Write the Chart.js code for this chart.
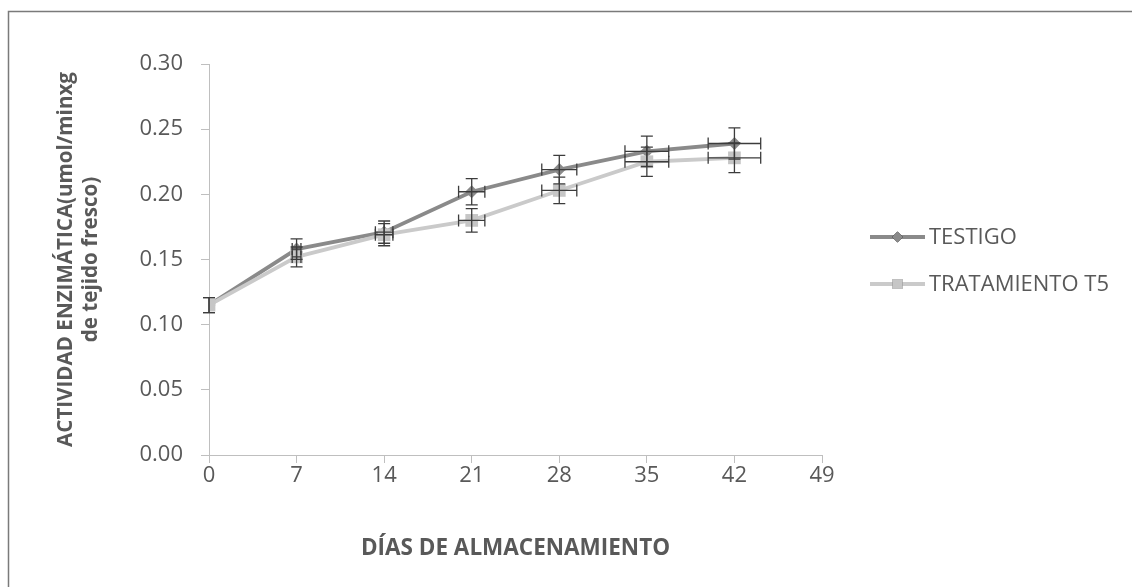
<!DOCTYPE html>
<html>
<head>
<meta charset="utf-8">
<script src="https://cdn.jsdelivr.net/npm/chart.js@4.4.1/dist/chart.umd.min.js"></script>
<style>
  html, body { margin: 0; padding: 0; background: #fff; overflow: hidden; }
  canvas { display: block; }
</style>
</head>
<body>
<canvas id="chart" width="1132" height="587"></canvas>
<script>
// Storage days and enzyme activity per series
const days = [0, 7, 14, 21, 28, 35, 42];
const testigo = [0.115, 0.158, 0.171, 0.202, 0.219, 0.233, 0.239];
const tratamientoT5 = [0.115, 0.152, 0.169, 0.180, 0.203, 0.225, 0.228];
const seriesNames = ['TESTIGO', 'TRATAMIENTO T5'];

// Axis ranges and titles
const xMax = 49, xStep = 7;
const yMax = 0.30, yStep = 0.05;
const xTitle = 'DÍAS DE ALMACENAMIENTO';
const yTitle = ['ACTIVIDAD ENZIMÁTICA(umol/minxg', 'de tejido fresco)'];

// Error bars: percentage of each value, on both axes
const errorPercent = 5;

const FONT = '"Open Sans", "Liberation Sans", sans-serif';
const TEXT = '#595959';
const AXIS = '#bfbfbf';

function toPoints(ys) { return days.map((d, i) => ({ x: d, y: ys[i] })); }

const framePlugin = {
  id: 'frame',
  beforeDraw(chart) {
    const ctx = chart.ctx;
    ctx.save();
    ctx.fillStyle = '#fff';
    ctx.fillRect(0, 0, chart.width, chart.height);
    ctx.strokeStyle = '#7a7a7a';
    ctx.lineWidth = 1.5;
    ctx.beginPath();
    ctx.moveTo(8.5, chart.height);
    ctx.lineTo(8.5, 11.5);
    ctx.lineTo(chart.width, 11.5);
    ctx.stroke();
    ctx.restore();
  }
};

const errorBarPlugin = {
  id: 'errorBars',
  afterDatasetsDraw(chart) {
    const ctx = chart.ctx;
    const xs = chart.scales.x, ys = chart.scales.y;
    const cap = 6;
    ctx.save();
    ctx.strokeStyle = '#3c3c3c';
    ctx.lineWidth = 1.3;
    chart.data.datasets.forEach(ds => {
      ds.data.forEach(p => {
        const dx = p.x * errorPercent / 100;
        const dy = p.y * errorPercent / 100;
        const px = xs.getPixelForValue(p.x), py = ys.getPixelForValue(p.y);
        const yTop = ys.getPixelForValue(p.y + dy), yBot = ys.getPixelForValue(p.y - dy);
        const xL = xs.getPixelForValue(p.x - dx), xR = xs.getPixelForValue(p.x + dx);
        ctx.beginPath();
        ctx.moveTo(px, yTop); ctx.lineTo(px, yBot);
        ctx.moveTo(px - cap, yTop); ctx.lineTo(px + cap, yTop);
        ctx.moveTo(px - cap, yBot); ctx.lineTo(px + cap, yBot);
        if (dx > 0) {
          ctx.moveTo(xL, py); ctx.lineTo(xR, py);
          ctx.moveTo(xL, py - cap); ctx.lineTo(xL, py + cap);
          ctx.moveTo(xR, py - cap); ctx.lineTo(xR, py + cap);
        }
        ctx.stroke();
      });
    });
    ctx.restore();
  }
};

// Legend on the right: line sample with its marker, then the series name
const sideLegendPlugin = {
  id: 'sideLegend',
  afterDraw(chart) {
    const ctx = chart.ctx;
    const x0 = 870, x1 = 925, rows = [237, 284];
    const markerRadius = [5.5, 7];
    ctx.save();
    chart.data.datasets.forEach((ds, i) => {
      const y = rows[i];
      ctx.strokeStyle = ds.borderColor;
      ctx.lineWidth = ds.borderWidth;
      ctx.beginPath();
      ctx.moveTo(x0, y); ctx.lineTo(x1, y);
      ctx.stroke();
      Chart.helpers.drawPoint(ctx, {
        pointStyle: ds.pointStyle, radius: markerRadius[i], borderWidth: 0
      }, (x0 + x1) / 2, y);
      ctx.fillStyle = ds.pointBackgroundColor;
      ctx.fill();
      ctx.fillStyle = TEXT;
      ctx.font = '22px ' + FONT;
      ctx.textAlign = 'left';
      ctx.textBaseline = 'middle';
      ctx.fillText(ds.label, x1 + 4, y + 1);
    });
    ctx.restore();
  }
};

new Chart(document.getElementById('chart'), {
  type: 'scatter',
  data: {
    datasets: [
      {
        label: seriesNames[0],
        data: toPoints(testigo),
        showLine: true,
        borderColor: '#8a8a8a',
        borderWidth: 3.8,
        pointStyle: 'rectRot',
        pointRadius: 6.5,
        pointBackgroundColor: '#8a8a8a',
        pointBorderWidth: 0,
        order: 2
      },
      {
        label: seriesNames[1],
        data: toPoints(tratamientoT5),
        showLine: true,
        borderColor: '#cacaca',
        borderWidth: 3.8,
        pointStyle: 'rect',
        pointRadius: 9,
        pointBackgroundColor: '#c6c6c6',
        pointBorderWidth: 0,
        order: 1
      }
    ]
  },
  options: {
    responsive: false,
    animation: false,
    devicePixelRatio: 1,
    layout: { padding: { top: 64, right: 310, left: 0, bottom: 0 } },
    plugins: { legend: { display: false }, tooltip: { enabled: false } },
    elements: { line: { tension: 0 } },
    scales: {
      x: {
        type: 'linear', min: 0, max: xMax,
        afterFit(s) { s.height = 132; },
        border: { display: true, color: AXIS, width: 1 },
        grid: { drawOnChartArea: false, drawTicks: true, tickLength: 8, color: AXIS },
        ticks: { stepSize: xStep, padding: 0, color: TEXT, font: { family: FONT, size: 22 } },
        title: {
          display: true, text: xTitle, color: TEXT,
          font: { family: FONT, size: 22.5, weight: 'bold' },
          padding: { top: 0, bottom: 25 }
        }
      },
      y: {
        type: 'linear', min: 0, max: yMax,
        afterFit(s) { s.width = 209; },
        border: { display: true, color: AXIS, width: 1 },
        grid: { drawOnChartArea: false, drawTicks: true, tickLength: 8, color: AXIS },
        ticks: {
          stepSize: yStep, padding: 18, color: TEXT,
          font: { family: FONT, size: 22 },
          callback: v => v.toFixed(2)
        },
        title: {
          display: true, text: yTitle, color: TEXT,
          font: { family: FONT, size: 20.6, weight: 'bold', lineHeight: 1.2 },
          padding: { top: 54, bottom: 0 }
        }
      }
    }
  },
  plugins: [framePlugin, errorBarPlugin, sideLegendPlugin]
});
</script>
</body>
</html>
